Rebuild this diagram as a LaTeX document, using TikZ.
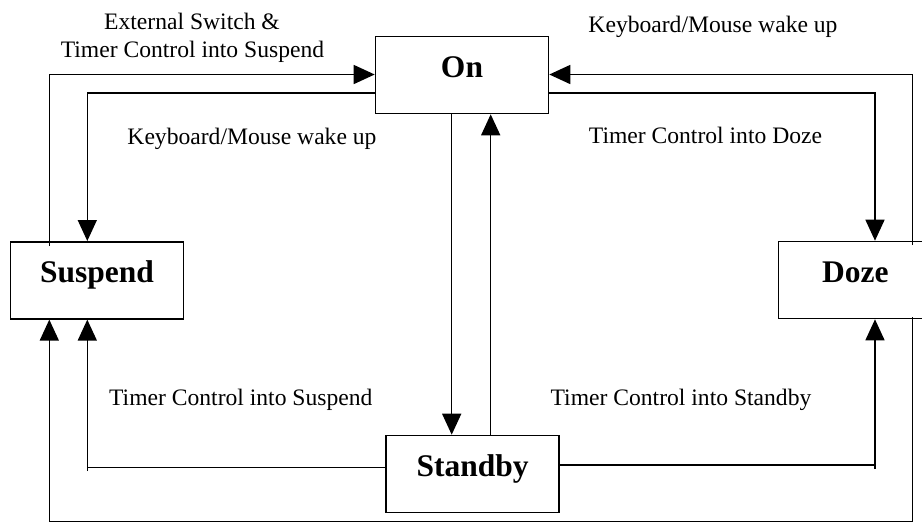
\documentclass[tikz,border=0pt]{standalone}
\usepackage{fontspec}
\setmainfont{Liberation Serif}
\usetikzlibrary{arrows.meta}
\begin{document}
\begin{tikzpicture}[x=1pt,y=-1pt,
  state/.style={draw, line width=1.6pt, inner sep=0pt, text height=41pt, text depth=36pt,
    minimum width=173pt, font=\fontsize{31.5pt}{36pt}\selectfont\bfseries},
  conn/.style={line width=1.5pt, -{Triangle[length=21pt,width=19pt]}},
  plain/.style={line width=1.5pt},
  lbl/.style={inner sep=0pt, anchor=base, font=\fontsize{23.6pt}{28pt}\selectfont}]
\clip (0,0) rectangle (922,523);
\fill[white] (0,0) rectangle (922,523);
% states
\node[state] (On) at (462,75) {On};
\node[state] (Suspend) at (97,280.3) {Suspend};
\node[state] (Standby) at (472.7,474) {Standby};
\node[state, minimum width=154pt] (Doze) at (855.3,280) {Doze};
% helper coordinates
\coordinate (xl1) at (49.3,0);
\coordinate (xl2) at (87.3,0);
\coordinate (xr1) at (875,0);
\coordinate (xr2) at (912.7,0);
\coordinate (xm1) at (451.7,0);
\coordinate (xm2) at (490.7,0);
\coordinate (yA) at (0,74.5);
\coordinate (yB) at (0,93);
\coordinate (yL) at (0,467.5);
\coordinate (yR) at (0,465);
\coordinate (yLt) at (0,471);
\coordinate (yRt) at (0,469);
\coordinate (yBot) at (0,521.5);
% connectors
\draw[conn] ([yshift=-5pt]Suspend.north -| xl1) |- (On.west |- yA);
\draw[conn] (On.west |- yB) -| (Suspend.north -| xl2);
\draw[conn] (On.east |- yB) -| (Doze.north -| xr1);
\draw[conn] ([yshift=-4pt]Doze.north -| xr2) |- (On.east |- yA);
\draw[conn] (On.south -| xm1) -- (Standby.north -| xm1);
\draw[conn] (Standby.north -| xm2) -- (On.south -| xm2);
\draw[plain] (Standby.west |- yL) -- (xl2 |- yL);
\draw[conn] (xl2 |- yLt) -- (Suspend.south -| xl2);
\draw[plain] (Standby.east |- yR) -- (xr1 |- yR);
\draw[conn] (xr1 |- yRt) -- (Doze.south -| xr1);
\draw[conn] ([yshift=2pt]Doze.south -| xr2) |- (yBot -| xl1) -- (Suspend.south -| xl1);
% labels
\node[lbl] (lblExtA) at (192,29.3) {External Switch \&};
\node[lbl] (lblExtB) at (192.5,57.3) {Timer Control into Suspend};
\node[lbl] (lblKML) at (252,144) {Keyboard/Mouse wake up};
\node[lbl] (lblKMR) at (713,32) {Keyboard/Mouse wake up};
\node[lbl] (lblDoze) at (705.5,143.3) {Timer Control into Doze};
\node[lbl] (lblSus) at (240.8,405) {Timer Control into Suspend};
\node[lbl] (lblStb) at (681,405) {Timer Control into Standby};
\end{tikzpicture}
\end{document}
